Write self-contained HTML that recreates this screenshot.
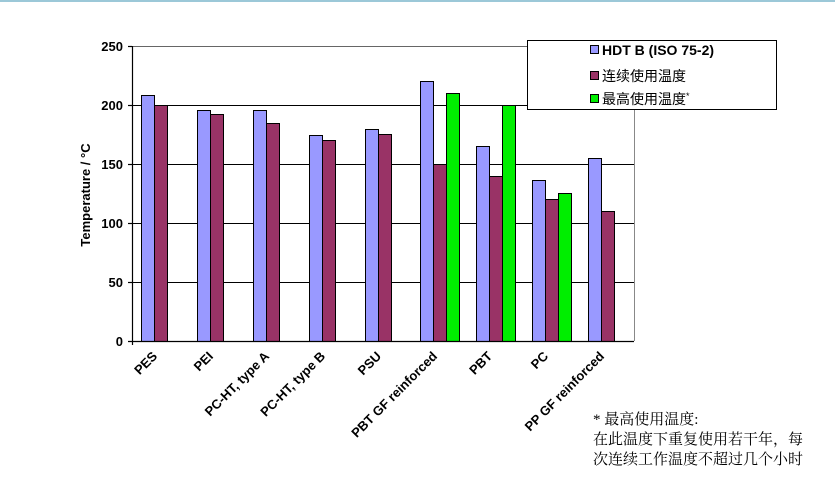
<!DOCTYPE html>
<html><head><meta charset="utf-8"><style>
body{margin:0;background:#fff;}
svg{display:block;}
text{font-family:"Liberation Sans","Noto Sans CJK SC",sans-serif;}
.serif{font-family:"Liberation Serif","Noto Serif CJK SC",serif;}
</style></head><body>
<svg width="835" height="487" viewBox="0 0 835 487" xmlns="http://www.w3.org/2000/svg">
<rect x="0" y="0" width="835" height="2" fill="#9cc8d8"/>
<g stroke="#000" stroke-width="1">
<line x1="132" y1="46.5" x2="634" y2="46.5" stroke="#666"/>
<line x1="132" y1="105.5" x2="634" y2="105.5"/>
<line x1="132" y1="164.5" x2="634" y2="164.5"/>
<line x1="132" y1="223.5" x2="634" y2="223.5"/>
<line x1="132" y1="282.5" x2="634" y2="282.5"/>
<line x1="634.5" y1="46" x2="634.5" y2="341" stroke="#888"/>
</g>
<g stroke="#000" stroke-width="1">
<rect x="141.5" y="95.5" width="13" height="246" fill="#9999ff"/><rect x="154.5" y="105.5" width="13" height="236" fill="#993366"/>
<rect x="197.5" y="110.5" width="13" height="231" fill="#9999ff"/><rect x="210.5" y="114.5" width="13" height="227" fill="#993366"/>
<rect x="253.5" y="110.5" width="13" height="231" fill="#9999ff"/><rect x="266.5" y="123.5" width="13" height="218" fill="#993366"/>
<rect x="309.5" y="135.5" width="13" height="206" fill="#9999ff"/><rect x="322.5" y="140.5" width="13" height="201" fill="#993366"/>
<rect x="365.5" y="129.5" width="13" height="212" fill="#9999ff"/><rect x="378.5" y="134.5" width="13" height="207" fill="#993366"/>
<rect x="420.5" y="81.5" width="13" height="260" fill="#9999ff"/><rect x="433.5" y="164.5" width="13" height="177" fill="#993366"/><rect x="446.5" y="93.5" width="13" height="248" fill="#00ee00"/>
<rect x="476.5" y="146.5" width="13" height="195" fill="#9999ff"/><rect x="489.5" y="176.5" width="13" height="165" fill="#993366"/><rect x="502.5" y="105.5" width="13" height="236" fill="#00ee00"/>
<rect x="532.5" y="180.5" width="13" height="161" fill="#9999ff"/><rect x="545.5" y="199.5" width="13" height="142" fill="#993366"/><rect x="558.5" y="193.5" width="13" height="148" fill="#00ee00"/>
<rect x="588.5" y="158.5" width="13" height="183" fill="#9999ff"/><rect x="601.5" y="211.5" width="13" height="130" fill="#993366"/>
</g>
<g stroke="#000" stroke-width="1.2">
<line x1="132.5" y1="46" x2="132.5" y2="345"/>
<line x1="128" y1="341.5" x2="634" y2="341.5"/>
<line x1="128" y1="46.5" x2="132" y2="46.5"/><line x1="128" y1="105.5" x2="132" y2="105.5"/><line x1="128" y1="164.5" x2="132" y2="164.5"/><line x1="128" y1="223.5" x2="132" y2="223.5"/><line x1="128" y1="282.5" x2="132" y2="282.5"/>
</g>
<g font-size="13" font-weight="bold" text-anchor="end">
<text x="123" y="51">250</text><text x="123" y="110">200</text><text x="123" y="169">150</text><text x="123" y="228">100</text><text x="123" y="287">50</text><text x="123" y="346">0</text>
</g>
<text transform="translate(90,195) rotate(-90)" font-size="13" font-weight="bold" text-anchor="middle">Temperature / °C</text>
<g font-size="13" font-weight="bold" text-anchor="end">
<text transform="translate(158,357) rotate(-45)">PES</text>
<text transform="translate(214,357) rotate(-45)">PEI</text>
<text transform="translate(270,357) rotate(-45)">PC-HT, type A</text>
<text transform="translate(326,357) rotate(-45)">PC-HT, type B</text>
<text transform="translate(382,357) rotate(-45)">PSU</text>
<text transform="translate(438,357) rotate(-45)">PBT GF reinforced</text>
<text transform="translate(493,357) rotate(-45)">PBT</text>
<text transform="translate(549,357) rotate(-45)">PC</text>
<text transform="translate(605,357) rotate(-45)">PP GF reinforced</text>
</g>
<rect x="527.5" y="40.5" width="249" height="69" fill="#fff" stroke="#000"/>
<rect x="590.5" y="45.5" width="8" height="8" fill="#9999ff" stroke="#000"/>
<text x="602" y="55" font-size="14" font-weight="bold">HDT B (ISO 75-2)</text>
<rect x="590.5" y="71.5" width="8" height="8" fill="#993366" stroke="#000"/>
<text x="602" y="81" font-size="14">连续使用温度</text>
<rect x="590.5" y="94.5" width="8" height="8" fill="#00ee00" stroke="#000"/>
<text x="602" y="104" font-size="14">最高使用温度<tspan font-size="9" dy="-5">*</tspan></text>
<g font-size="15">
<text class="serif" x="593" y="424">* 最高使用温度:</text>
<text class="serif" x="593" y="444">在此温度下重复使用若干年，每</text>
<text class="serif" x="593" y="464">次连续工作温度不超过几个小时</text>
</g>
</svg>
</body></html>
